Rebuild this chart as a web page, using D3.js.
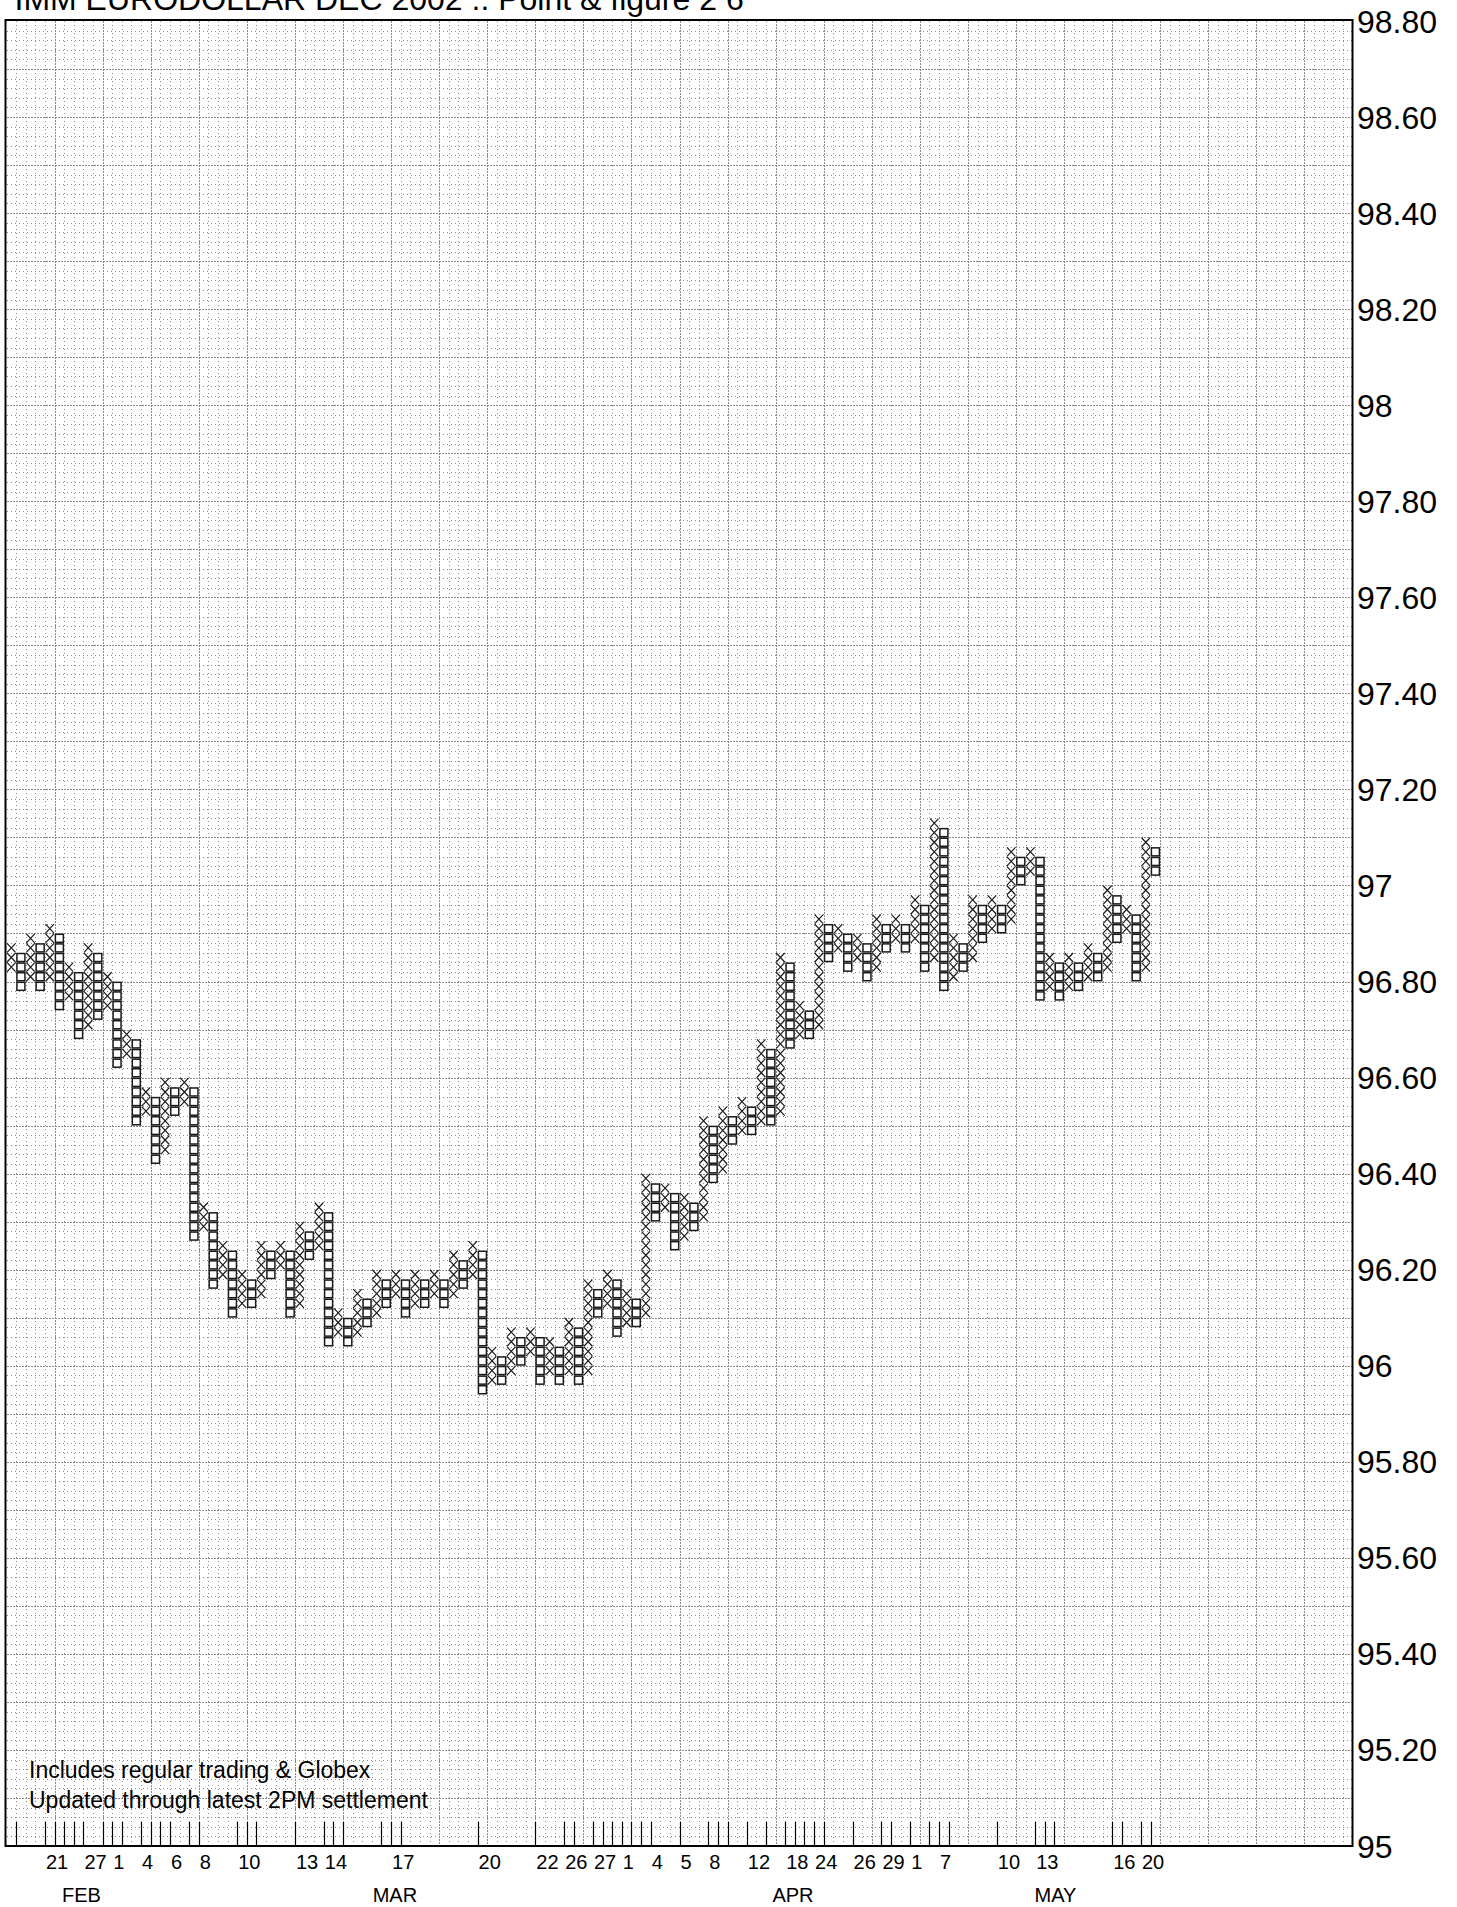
<!DOCTYPE html>
<html><head><meta charset="utf-8">
<script src="https://cdn.jsdelivr.net/npm/d3@7/dist/d3.min.js"></script>
<style>
html,body{margin:0;padding:0;background:#fff;}
svg{display:block;font-family:"Liberation Sans", Arial, Helvetica, sans-serif;}
</style></head><body>
<svg id="chart" width="1457" height="1907"></svg>
<script>
// ---------------- data ----------------
const chartTitle = "IMM EURODOLLAR DEC 2002 .. Point & figure 2 6";
const noteLines = ["Includes regular trading & Globex", "Updated through latest 2PM settlement"];
const boxSize = 0.02;
const firstColumnType = "X";   // columns alternate X / O
// lowest and highest box of each column (box lower-edge price)
const columnLow = [
  96.82,96.78,96.80,96.78,96.80,96.74,96.76,96.68,96.70,96.72,
  96.74,96.62,96.64,96.50,96.52,96.42,96.44,96.52,96.54,96.26,
  96.28,96.16,96.18,96.10,96.12,96.12,96.14,96.18,96.20,96.10,
  96.12,96.22,96.24,96.04,96.06,96.04,96.06,96.08,96.10,96.12,
  96.14,96.10,96.12,96.12,96.14,96.12,96.14,96.16,96.18,95.94,
  95.96,95.96,95.98,96.00,96.02,95.96,95.98,95.96,95.98,95.96,
  95.98,96.10,96.12,96.06,96.08,96.08,96.10,96.30,96.32,96.24,
  96.26,96.28,96.30,96.38,96.40,96.46,96.48,96.48,96.50,96.50,
  96.52,96.66,96.68,96.68,96.70,96.84,96.86,96.82,96.84,96.80,
  96.82,96.86,96.88,96.86,96.88,96.82,96.84,96.78,96.80,96.82,
  96.84,96.88,96.90,96.90,96.92,97.00,97.02,96.76,96.78,96.76,
  96.78,96.78,96.80,96.80,96.82,96.88,96.90,96.80,96.82,97.02
];
const columnHigh = [
  96.86,96.84,96.88,96.86,96.90,96.88,96.82,96.80,96.86,96.84,
  96.80,96.78,96.68,96.66,96.56,96.54,96.58,96.56,96.58,96.56,
  96.32,96.30,96.24,96.22,96.18,96.16,96.24,96.22,96.24,96.22,
  96.28,96.26,96.32,96.30,96.10,96.08,96.14,96.12,96.18,96.16,
  96.18,96.16,96.18,96.16,96.18,96.16,96.22,96.20,96.24,96.22,
  96.02,96.00,96.06,96.04,96.06,96.04,96.04,96.02,96.08,96.06,
  96.16,96.14,96.18,96.16,96.14,96.12,96.38,96.36,96.36,96.34,
  96.34,96.32,96.50,96.48,96.52,96.50,96.54,96.52,96.66,96.64,
  96.84,96.82,96.74,96.72,96.92,96.90,96.90,96.88,96.88,96.86,
  96.92,96.90,96.92,96.90,96.96,96.94,97.12,97.10,96.88,96.86,
  96.96,96.94,96.96,96.94,97.06,97.04,97.06,97.04,96.84,96.82,
  96.84,96.82,96.86,96.84,96.98,96.96,96.94,96.92,97.08,97.06
];
const totalColumns = 140;
const priceMin = 95, priceMax = 98.8;
const priceLabelValues = [95,95.2,95.4,95.6,95.8,96,96.2,96.4,96.6,96.8,97,97.2,97.4,97.6,97.8,98,98.2,98.4,98.6,98.8];
const priceLabelTexts  = ["95","95.20","95.40","95.60","95.80","96","96.20","96.40","96.60","96.80","97","97.20","97.40","97.60","97.80","98","98.20","98.40","98.60","98.80"];
// columns where a new trading day starts (tick marks)
const dayTickColumns = [1,4,5,6,7,8,10,11,12,14,15,16,17,19,20,24,25,26,30,33,34,35,39,40,41,49,55,58,59,61,62,
  63,64,65,66,67,70,73,74,75,77,79,81,82,83,84,85,88,91,92,94,96,97,98,103,107,108,109,115,116,118,119];
const dayLabelTexts   = ["21","27","1","4","6","8","10","13","14","17","20","22","26","27","1","4","5","8","12","18","24","26","29","1","7","10","13","16","20"];
const dayLabelColumns = [4,8,11,14,17,20,24,30,33,40,49,55,58,61,64,67,70,73,77,81,84,88,91,94,97,103,107,115,118];
const monthLabelTexts = ["FEB","MAR","APR","MAY"];
const monthLabelPositions = [7.8,40.4,81.8,109.1]; // in column units

// ---------------- layout ----------------
const plotLeft = 6.5, plotRight = 1352.5, plotTop = 21, plotBottom = 1846;
const svg = d3.select("#chart");
const x = d3.scaleLinear().domain([0, totalColumns]).range([plotLeft, plotRight]);
const y = d3.scaleLinear().domain([priceMin, priceMax]).range([plotBottom, plotTop]);
const nRows = Math.round((priceMax - priceMin) / boxSize);

svg.append("rect").attr("width",1457).attr("height",1907).attr("fill","#fff");

// grid
const grid = svg.append("g").attr("shape-rendering","crispEdges");
const colIdx = d3.range(1, totalColumns);
const minorStyle = sel => sel.attr("stroke", "#8c8c8c").attr("stroke-width", 1).attr("stroke-dasharray", "1,3");
const majorStyle = sel => sel.attr("stroke", "#8a8a8a").attr("stroke-width", 1).attr("stroke-dasharray", "2,1");
grid.selectAll("line.vminor").data(colIdx.filter(i => i % 5 !== 0)).join("line")
  .attr("x1", i => Math.round(x(i)) + 0.5).attr("x2", i => Math.round(x(i)) + 0.5)
  .attr("y1", plotTop).attr("y2", plotBottom).call(minorStyle);
const rowIdx = d3.range(1, nRows);
grid.selectAll("line.hminor").data(rowIdx.filter(i => i % 5 !== 0)).join("line")
  .attr("y1", i => Math.round(y(priceMin + i*boxSize)) + 0.5).attr("y2", i => Math.round(y(priceMin + i*boxSize)) + 0.5)
  .attr("x1", plotLeft).attr("x2", plotRight).call(minorStyle);
grid.selectAll("line.vmajor").data(colIdx.filter(i => i % 5 === 0)).join("line")
  .attr("x1", i => Math.round(x(i)) + 0.5).attr("x2", i => Math.round(x(i)) + 0.5)
  .attr("y1", plotTop).attr("y2", plotBottom).call(majorStyle);
grid.selectAll("line.hmajor").data(rowIdx.filter(i => i % 5 === 0)).join("line")
  .attr("y1", i => Math.round(y(priceMin + i*boxSize)) + 0.5).attr("y2", i => Math.round(y(priceMin + i*boxSize)) + 0.5)
  .attr("x1", plotLeft).attr("x2", plotRight).call(majorStyle);

// boxes
const boxes = [];
columnLow.forEach((lo, c) => {
  const type = (c % 2 === 0) ? firstColumnType : (firstColumnType === "X" ? "O" : "X");
  const n = Math.round((columnHigh[c] - lo) / boxSize);
  for (let k = 0; k <= n; k++) boxes.push({c, type, p: lo + k*boxSize});
});
const marks = svg.append("g");
const xs = boxes.filter(b => b.type === "X");
const os = boxes.filter(b => b.type === "O");
marks.selectAll("path.x").data(xs).join("path")
  .attr("d", b => {
    const x0 = x(b.c) + 0.6, x1 = x(b.c + 1) - 0.6;
    const y0 = y(b.p + boxSize) + 0.3, y1 = y(b.p) - 0.3;
    return `M${x0},${y0}L${x1},${y1}M${x0},${y1}L${x1},${y0}`;
  })
  .attr("stroke", "#1a1a1a").attr("stroke-width", 1.2).attr("fill", "none");
marks.selectAll("rect.o").data(os).join("rect")
  .attr("x", b => x(b.c + 0.5) - 4).attr("y", b => y(b.p + boxSize/2) - 4)
  .attr("width", 8).attr("height", 8)
  .attr("fill", "#fff").attr("stroke", "#1a1a1a").attr("stroke-width", 1.5);

// day ticks
svg.append("g").selectAll("line").data(dayTickColumns).join("line")
  .attr("x1", c => Math.round(x(c)) + 0.5).attr("x2", c => Math.round(x(c)) + 0.5)
  .attr("y1", plotBottom - 24).attr("y2", plotBottom)
  .attr("stroke", "#000").attr("stroke-width", 1.2);

// frame
svg.append("rect").attr("x", plotLeft - 1).attr("y", plotTop - 1)
  .attr("width", plotRight - plotLeft + 1).attr("height", plotBottom - plotTop + 1)
  .attr("fill", "none").attr("stroke", "#000").attr("stroke-width", 2);

// price labels
svg.append("g").selectAll("text").data(priceLabelValues).join("text")
  .attr("x", plotRight + 4.5).attr("y", v => y(v) + 11.5)
  .attr("font-size", 32).attr("fill", "#000")
  .text((v, i) => priceLabelTexts[i]);

// day labels
svg.append("g").selectAll("text").data(dayLabelColumns).join("text")
  .attr("x", c => x(c) + 1).attr("y", 1869)
  .attr("font-size", 20).attr("fill", "#000")
  .text((c, i) => dayLabelTexts[i]);

// month labels
svg.append("g").selectAll("text").data(monthLabelPositions).join("text")
  .attr("x", p => x(p)).attr("y", 1902).attr("text-anchor", "middle")
  .attr("font-size", 20).attr("fill", "#000")
  .text((p, i) => monthLabelTexts[i]);

// notes
svg.append("g").selectAll("text").data(noteLines).join("text")
  .attr("x", 29).attr("y", (d, i) => 1778 + i * 30)
  .attr("font-size", 23).attr("fill", "#000")
  .text(d => d);

// title (top of the glyphs runs off the page, as in the original)
svg.append("text").attr("x", 14.5).attr("y", 10)
  .attr("font-size", 32).attr("fill", "#000").text(chartTitle);
</script>
</body></html>
